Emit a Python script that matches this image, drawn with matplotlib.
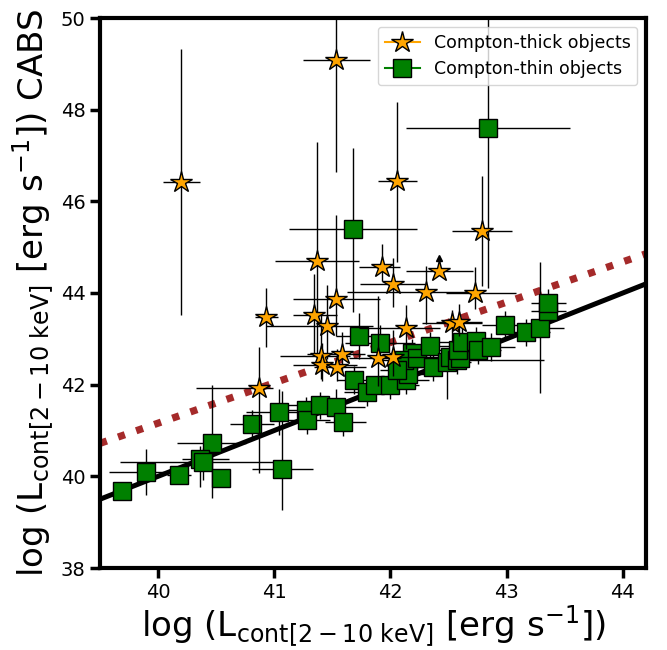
import matplotlib
matplotlib.use("Agg")
import matplotlib.pyplot as plt
from matplotlib.lines import Line2D
import numpy as np

# Compton-thick sources: log L(2-10 keV) continuum vs CABS estimate
thick_x = [40.20, 41.53, 41.37, 40.93, 40.87, 41.34, 41.53, 41.45, 41.40, 41.41, 41.58, 41.54,
           41.89, 42.02, 42.13, 41.93, 42.02, 42.31, 42.73, 42.79, 42.06, 42.53, 42.59]
thick_y = [46.42, 49.08, 44.69, 43.47, 41.92, 43.52, 43.86, 43.27, 42.62, 42.42, 42.66, 42.38,
           42.58, 42.60, 43.23, 44.56, 44.19, 44.02, 44.00, 45.35, 46.44, 43.34, 43.36]
thick_xlo = [0.16, 0.28, 0.36, 0.10, 0.54, 0.18, 0.37, 0.52, 0.35, 0.25, 0.30, 0.20,
             0.25, 0.20, 0.40, 0.20, 0.28, 0.68, 0.25, 0.26, 0.17, 0.26, 0.20]
thick_xhi = [0.16, 0.29, 0.36, 0.10, 0.12, 0.20, 0.38, 0.40, 0.25, 0.30, 0.20, 0.25,
             0.20, 0.30, 0.30, 0.15, 0.28, 0.44, 0.35, 0.26, 0.17, 0.26, 0.20]
thick_ylo = [2.90, 2.44, 2.20, 0.65, 1.85, 0.90, 0.80, 0.70, 0.50, 0.35, 0.40, 0.30,
             0.60, 0.40, 0.45, 0.30, 0.50, 0.70, 0.35, 1.20, 1.77, 0.40, 0.30]
thick_yhi = [2.90, 1.20, 2.60, 0.65, 0.90, 0.90, 1.84, 0.90, 0.90, 0.50, 0.50, 0.40,
             1.35, 0.60, 0.50, 0.50, 0.57, 0.58, 0.56, 1.20, 1.73, 0.30, 0.40]

# Compton-thick source with a lower limit only
limit_x = [42.42]
limit_y = [44.48]
limit_xerr = [0.29]
limit_yup = [0.28]

# Compton-thin sources
thin_x = [39.69, 39.90, 40.18, 40.46, 40.36, 40.39, 40.54, 40.81, 41.04, 41.07, 41.27, 41.28,
          41.39, 41.53, 41.59, 41.73, 41.68, 42.84, 41.69, 41.80, 41.87, 42.00, 42.13, 42.15,
          42.19, 42.12, 42.06, 42.23, 41.91, 42.34, 42.37, 42.49, 42.51, 42.57, 42.60, 42.58,
          42.62, 42.74, 42.75, 42.87, 42.99, 43.17, 43.29, 43.36, 43.36]
thin_y = [39.69, 40.09, 40.02, 40.72, 40.37, 40.31, 39.96, 41.14, 41.40, 40.17, 41.44, 41.22,
          41.55, 41.51, 41.18, 43.06, 45.39, 47.60, 42.10, 41.83, 41.99, 41.99, 42.10, 42.23,
          42.69, 42.53, 42.31, 42.58, 42.90, 42.84, 42.38, 42.49, 42.60, 42.53, 42.58, 42.75,
          42.93, 42.95, 42.75, 42.82, 43.30, 43.14, 43.23, 43.60, 43.78]
thin_xlo = [0.05, 0.32, 0.10, 0.30, 0.15, 0.72, 0.05, 0.19, 0.28, 0.26, 0.15, 0.20,
            0.30, 0.25, 0.15, 0.20, 0.55, 0.71, 0.15, 0.20, 0.20, 0.25, 0.20, 0.15,
            0.20, 0.20, 0.15, 0.20, 0.30, 0.20, 0.20, 0.20, 0.20, 0.20, 0.15, 0.20,
            0.20, 0.20, 0.20, 0.20, 0.20, 0.20, 0.20, 0.15, 0.15]
thin_xhi = [0.05, 0.25, 0.10, 0.30, 0.25, 0.68, 0.05, 0.19, 0.28, 0.26, 0.15, 0.20,
            0.20, 0.25, 0.20, 0.20, 0.55, 0.71, 0.15, 0.20, 0.20, 0.25, 0.20, 0.15,
            0.20, 0.20, 0.15, 0.20, 0.30, 0.20, 0.20, 0.20, 0.20, 0.75, 0.15, 0.20,
            0.20, 0.20, 0.20, 0.20, 0.20, 0.20, 0.20, 0.15, 0.15]
thin_ylo = [0.10, 0.50, 0.10, 1.20, 0.60, 0.40, 0.10, 0.30, 0.50, 0.90, 0.30, 0.30,
            0.30, 0.30, 0.30, 0.50, 1.80, 3.50, 0.30, 0.30, 0.20, 0.30, 0.30, 0.20,
            0.30, 0.30, 0.30, 0.30, 0.40, 0.30, 0.30, 0.80, 0.30, 0.30, 0.20, 0.30,
            0.30, 0.30, 0.30, 0.30, 0.30, 0.30, 1.42, 0.30, 0.30]
thin_yhi = [0.10, 0.50, 0.10, 1.27, 0.30, 0.30, 0.10, 0.30, 0.50, 1.70, 0.30, 0.30,
            0.30, 0.40, 0.30, 0.50, 1.77, 2.50, 0.30, 0.30, 0.20, 0.30, 0.30, 0.20,
            0.30, 0.30, 0.30, 0.30, 0.40, 0.30, 0.30, 0.30, 0.30, 0.30, 0.20, 0.30,
            0.30, 0.30, 0.30, 0.30, 0.30, 0.30, 1.44, 0.30, 0.30]

# Reference relations: one-to-one and best fit
fit_slope = 0.88
fit_intercept = 5.96

x_lim = (39.5, 44.2)
y_lim = (38, 50)
x_ticks = [40, 41, 42, 43, 44]
y_ticks = [38, 40, 42, 44, 46, 48, 50]

fig = plt.figure(figsize=(6.67, 6.5), dpi=100)
ax = fig.add_axes([100 / 667, 1 - 568 / 650, 546 / 667, 550 / 650])

xx = np.array(x_lim)
ax.plot(xx, xx, color="black", lw=3.6, zorder=2)
ax.plot(xx, fit_slope * xx + fit_intercept, color="brown", lw=5.2, ls=":", zorder=2)

ax.errorbar(thin_x, thin_y, xerr=[thin_xlo, thin_xhi], yerr=[thin_ylo, thin_yhi],
            fmt="s", ms=12.5, mfc="green", mec="black", mew=1.0,
            ecolor="black", elinewidth=1.0, capsize=0, zorder=3)
ax.errorbar(thick_x, thick_y, xerr=[thick_xlo, thick_xhi], yerr=[thick_ylo, thick_yhi],
            fmt="*", ms=16, mfc="orange", mec="black", mew=1.0,
            ecolor="black", elinewidth=1.0, capsize=0, zorder=4)

# lower-limit source: star, short upward stem and arrow head
lx = np.array(limit_x)
ly = np.array(limit_y)
ltop = ly + np.array(limit_yup)
ax.errorbar(lx, ly, xerr=[limit_xerr, limit_xerr], fmt="none",
            ecolor="black", elinewidth=1.0, capsize=0, zorder=3)
ax.vlines(lx, ly, ltop, color="black", lw=1.0, zorder=3)
ax.plot(lx, ltop, ls="none", marker="^", ms=5, color="black", zorder=3)
ax.plot(lx, ly, ls="none", marker="*", ms=16, mfc="orange", mec="black", mew=1.0, zorder=4)

ax.set_xlim(*x_lim)
ax.set_ylim(*y_lim)
ax.set_xticks(x_ticks)
ax.set_yticks(y_ticks)
ax.tick_params(axis="both", direction="out", length=7, width=2.5, labelsize=14)
for sp in ax.spines.values():
    sp.set_linewidth(3)

ax.set_xlabel(r"log (L$_{\rm cont[2-10\ keV]}$ [erg s$^{-1}$])", fontsize=24.5, labelpad=1)
ax.set_ylabel(r"log (L$_{\rm cont[2-10\ keV]}$ [erg s$^{-1}$]) CABS", fontsize=24.5,
              labelpad=3)

handles = [
    Line2D([0], [0], color="orange", marker="*", ms=16, mfc="orange", mec="black", lw=1.5),
    Line2D([0], [0], color="green", marker="s", ms=12.5, mfc="green", mec="black", lw=1.5),
]
ax.legend(handles, ["Compton-thick objects", "Compton-thin objects"],
          loc="upper right", fontsize=12.5)

fig.savefig("out.png", dpi=100)
